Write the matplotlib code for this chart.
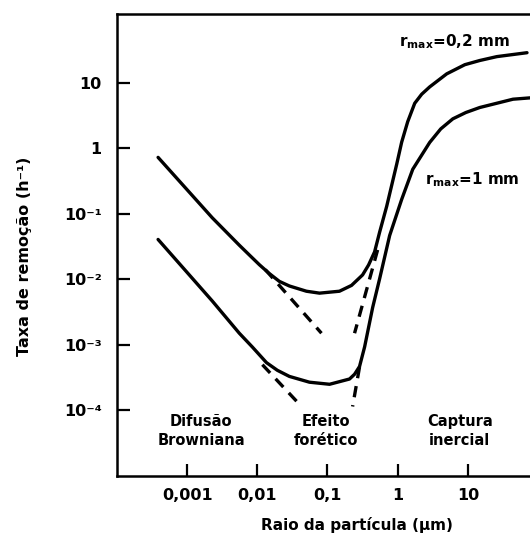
import matplotlib
matplotlib.use("Agg")
import matplotlib.pyplot as plt

# curve for r_max = 0,2 mm (raio em um, taxa em 1/h)
upper_x = [3.85e-4, 2.28e-3, 5.53e-3, 7.69e-3, 0.0107, 0.0148, 0.0206, 0.0286, 0.0501,
           0.0769, 0.148, 0.22, 0.316, 0.385, 0.469, 0.553, 0.697, 0.82, 0.968, 1.14,
           1.39, 1.75, 2.2, 2.86, 5.0, 9.06, 14.8, 25.9, 69.7]
upper_y = [0.728, 0.0871, 0.0333, 0.0236, 0.01675, 0.0123, 0.00933, 0.00794, 0.0066,
           0.00617, 0.0066, 0.0081, 0.0117, 0.0166, 0.0263, 0.0525, 0.13, 0.27, 0.57, 1.24,
           2.55, 4.87, 6.7, 8.66, 13.7, 18.9, 21.9, 25.1, 28.8]

# curve for r_max = 1 mm
lower_x = [3.85e-4, 2.28e-3, 5.53e-3, 8.49e-3, 0.0135, 0.0193, 0.0286, 0.0553, 0.107,
           0.206, 0.243, 0.286, 0.338, 0.44, 0.553, 0.769, 1.14, 1.64, 2.86, 4.11,
           6.11, 9.36, 14.8, 44.0, 76.9]
lower_y = [0.0407, 0.00468, 0.00151, 9.3e-4, 5.37e-4, 4.1e-4, 3.31e-4, 2.7e-4, 2.51e-4,
           3.02e-4, 3.57e-4, 4.68e-4, 9.33e-4, 3.72e-3, 0.0102, 0.0468, 0.166, 0.479, 1.23,
           1.98, 2.82, 3.52, 4.2, 5.62, 5.89]

# dashed asymptotes
dash_up_left_x = [0.013, 0.082]
dash_up_left_y = [0.0141, 0.00151]
dash_lo_left_x = [0.0118, 0.0426]
dash_lo_left_y = [5.0e-4, 1.15e-4]
dash_up_right_x = [0.518, 0.243]
dash_up_right_y = [0.0282, 0.00151]
dash_lo_right_x = [0.286, 0.228]
dash_lo_right_y = [4.6e-4, 1.15e-4]

xticks = [0.001, 0.01, 0.1, 1, 10]
xticklabels = ["0,001", "0,01", "0,1", "1", "10"]
yticks = [1e-4, 1e-3, 1e-2, 1e-1, 1, 10]
yticklabels = ["10\u207b\u2074", "10\u207b\u00b3", "10\u207b\u00b2", "10\u207b\u00b9", "1", "10"]

plt.rcParams["font.family"] = "DejaVu Sans"
plt.rcParams["font.weight"] = "bold"

fig = plt.figure(figsize=(5.3, 5.49), dpi=100)
ax = fig.add_axes([117 / 530, 73 / 549, 413 / 530, 462 / 549])

lw = 2.4
ax.plot(upper_x, upper_y, color="black", lw=lw, solid_capstyle="round", solid_joinstyle="round")
ax.plot(lower_x, lower_y, color="black", lw=lw, solid_capstyle="round", solid_joinstyle="round")
for dx, dy in [(dash_up_left_x, dash_up_left_y), (dash_lo_left_x, dash_lo_left_y),
               (dash_up_right_x, dash_up_right_y), (dash_lo_right_x, dash_lo_right_y)]:
    ax.plot(dx, dy, color="black", lw=lw, dashes=(3.4, 2.4))

ax.set_xscale("log")
ax.set_yscale("log")
ax.set_xlim(1e-4, 10 ** 1.886)
ax.set_ylim(1e-5, 10 ** 2.05)

ax.set_xticks(xticks)
ax.set_xticklabels(xticklabels)
ax.set_yticks(yticks)
ax.set_yticklabels(yticklabels)
ax.minorticks_off()
ax.tick_params(axis="both", direction="in", length=9, width=1.6, labelsize=11.5)
ax.tick_params(axis="y", pad=11)
ax.tick_params(axis="x", pad=9)

for s in ["left", "bottom", "top"]:
    ax.spines[s].set_linewidth(1.8)
ax.spines["right"].set_visible(False)

ax.set_xlabel("Raio da partícula (\u03bcm)", fontsize=11, fontweight="bold")
ax.xaxis.set_label_coords(0.581, -0.089)
ax.set_ylabel("Taxa de remoção (h\u207b\u00b9)", fontsize=11.5, fontweight="bold")
ax.yaxis.set_label_coords(-0.205, 0.476)

ax.text(6.5, 42, r"$\mathbf{r_{max}}$=0,2 mm", ha="center", va="center", fontsize=11, fontweight="bold")
ax.text(11.4, 0.333, r"$\mathbf{r_{max}}$=1 mm", ha="center", va="center", fontsize=11, fontweight="bold")

for lx, txt in [(1.58e-3, "Difusão\nBrowniana"), (0.0936, "Efeito\nforético"),
                (7.7, "Captura\ninercial")]:
    ax.text(lx, 4.9e-5, txt, ha="center", va="center", fontsize=10.5,
            fontweight="bold", linespacing=1.35)

fig.savefig("out.png", dpi=100)
